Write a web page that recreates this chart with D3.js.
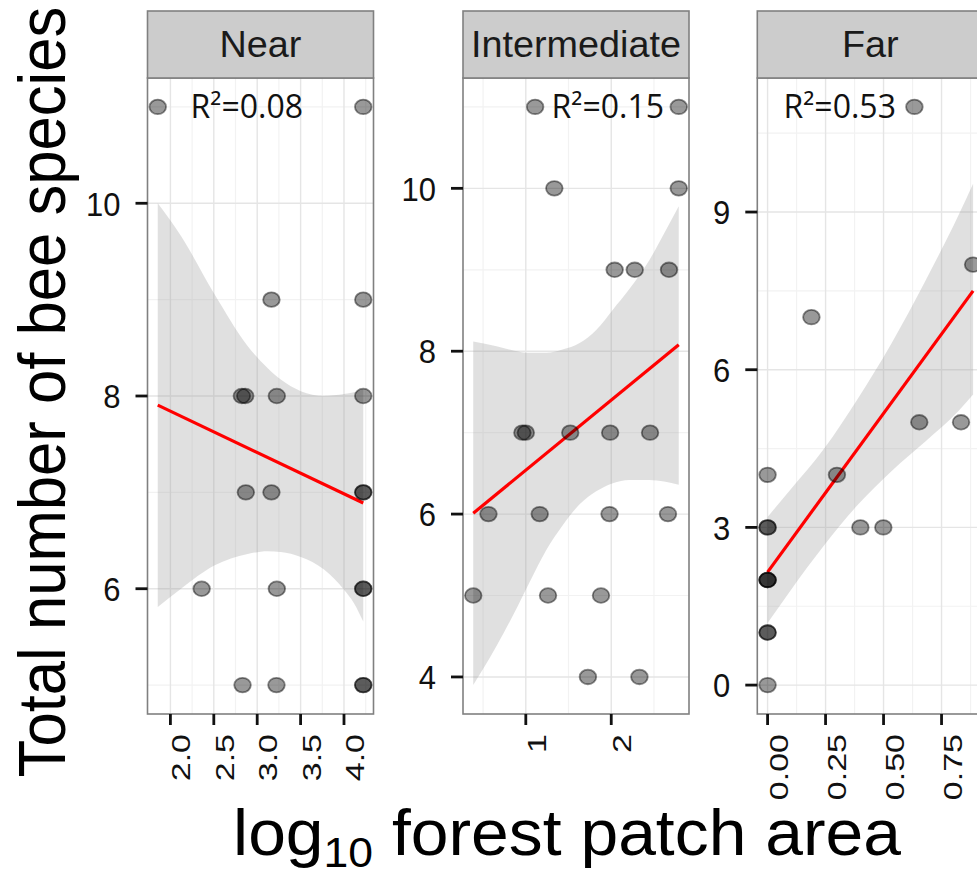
<!DOCTYPE html>
<html><head><meta charset="utf-8">
<script src="https://cdn.jsdelivr.net/npm/d3@7"></script>
<style>body{margin:0;background:#fff}svg{display:block}</style>
</head><body><svg id="c" width="977" height="879"></svg>
<script>
// ---------- data ----------
const panelNames = ["Near", "Intermediate", "Far"];
const r2Labels = ["R²=0.08", "R²=0.15", "R²=0.53"];
const r2X = [2.88, 1.96, 0.311];
const r2Y = [11, 11, 11];

const nearX = [1.854, 4.222, 3.164, 4.222, 2.823, 2.862, 3.226, 4.222, 2.869, 3.164, 4.222, 4.222, 2.36, 3.226, 4.222, 4.222, 2.831, 3.222, 4.222, 4.222];
const nearY = [11, 11, 9, 9, 8, 8, 8, 8, 7, 7, 7, 7, 6, 6, 6, 6, 5, 5, 5, 5];

const interX = [1.109, 2.79, 1.334, 2.79, 2.04, 2.275, 2.676, 0.96, 1.0, 1.52, 1.987, 2.454, 0.563, 1.163, 1.98, 2.664, 0.385, 1.26, 1.88, 1.727, 2.33];
const interY = [11, 11, 10, 10, 9, 9, 9, 7, 7, 7, 7, 7, 6, 6, 6, 6, 5, 5, 5, 4, 4];

const farX = [0.633, 0.886, 0.189, 0.654, 0.834, 0, 0.299, 0, 0, 0.40, 0.499, 0, 0, 0, 0, 0, 0];
const farY = [11, 8, 7, 5, 5, 4, 4, 3, 3, 3, 3, 2, 2, 2, 1, 1, 0];

// fitted lines (end points)
const nearLineX = [1.854, 4.222], nearLineY = [7.905, 6.89];
const interLineX = [0.385, 2.79], interLineY = [6.01, 8.08];
const farLineX = [0, 0.886], farLineY = [2.15, 7.50];

// confidence bands
const nearBandX = [1.854, 2.122, 2.505, 2.889, 3.119, 3.272, 3.502, 3.770, 4.000, 4.115, 4.222];
const nearBandHi = [10.0, 9.66, 9.06, 8.52, 8.29, 8.17, 8.05, 8.00, 8.02, 8.04, 8.07];
const nearBandLo = [5.81, 6.00, 6.24, 6.36, 6.39, 6.38, 6.33, 6.20, 5.99, 5.85, 5.66];

const interBandX = [0.385, 0.657, 0.852, 1.047, 1.24, 1.43, 1.63, 1.824, 2.019, 2.21, 2.447, 2.62, 2.79];
const interBandHi = [8.12, 8.06, 8.01, 7.98, 7.98, 8.02, 8.10, 8.26, 8.51, 8.76, 9.12, 9.45, 9.78];
const interBandLo = [3.90, 4.38, 4.76, 5.17, 5.56, 5.86, 6.12, 6.28, 6.38, 6.42, 6.42, 6.40, 6.36];

const farBandX = [0, 0.099, 0.244, 0.389, 0.534, 0.679, 0.824, 0.886];
const farBandHi = [3.20, 3.72, 4.50, 5.45, 6.50, 7.68, 8.95, 9.54];
const farBandLo = [1.18, 1.80, 2.66, 3.43, 4.07, 4.63, 5.22, 5.53];

// axes
const xDomains = [[1.736, 4.34], [0.265, 2.91], [-0.0443, 0.930]];
const yDomains = [[4.7, 11.3], [3.545, 11.355], [-0.55, 11.55]];
const xTicks = [[2.0, 2.5, 3.0, 3.5, 4.0], [1, 2], [0, 0.25, 0.5, 0.75]];
const xTickLabels = [["2.0", "2.5", "3.0", "3.5", "4.0"], ["1", "2"], ["0.00", "0.25", "0.50", "0.75"]];
const xMinor = [[2.25, 2.75, 3.25, 3.75, 4.25], [0.5, 1.5, 2.5], [0.125, 0.375, 0.625, 0.875]];
const yTicks = [[6, 8, 10], [4, 6, 8, 10], [0, 3, 6, 9]];
const yMinor = [[5, 7, 9, 11], [5, 7, 9, 11], [1.5, 4.5, 7.5, 10.5]];
const xTitleMain = "log";
const xTitleSub = "10";
const xTitleRest = " forest patch area";
const yTitle = "Total number of bee species";

// ---------- layout ----------
const panelX0 = [147.5, 463, 757.3];
const panelW = 226;
const panelTop = 78, panelBottom = 714, stripTop = 11;

const pts = [
  nearX.map((x, i) => ({x, y: nearY[i]})),
  interX.map((x, i) => ({x, y: interY[i]})),
  farX.map((x, i) => ({x, y: farY[i]}))
];
const lines = [
  nearLineX.map((x, i) => ({x, y: nearLineY[i]})),
  interLineX.map((x, i) => ({x, y: interLineY[i]})),
  farLineX.map((x, i) => ({x, y: farLineY[i]}))
];
const bands = [
  nearBandX.map((x, i) => ({x, lo: nearBandLo[i], hi: nearBandHi[i]})),
  interBandX.map((x, i) => ({x, lo: interBandLo[i], hi: interBandHi[i]})),
  farBandX.map((x, i) => ({x, lo: farBandLo[i], hi: farBandHi[i]}))
];

const svg = d3.select("#c");
const font = "'Liberation Sans', Arial, sans-serif";

panelNames.forEach((name, p) => {
  const x0 = panelX0[p];
  const xs = d3.scaleLinear().domain(xDomains[p]).range([x0, x0 + panelW]);
  const ys = d3.scaleLinear().domain(yDomains[p]).range([panelBottom, panelTop]);
  const g = svg.append("g");

  g.append("rect").attr("x", x0).attr("y", panelTop).attr("width", panelW)
    .attr("height", panelBottom - panelTop).attr("fill", "#fff");

  // minor grid
  g.selectAll(null).data(xMinor[p]).join("line")
    .attr("x1", d => xs(d)).attr("x2", d => xs(d)).attr("y1", panelTop).attr("y2", panelBottom)
    .attr("stroke", "#f2f2f2").attr("stroke-width", 1.2);
  g.selectAll(null).data(yMinor[p]).join("line")
    .attr("y1", d => ys(d)).attr("y2", d => ys(d)).attr("x1", x0).attr("x2", x0 + panelW)
    .attr("stroke", "#f2f2f2").attr("stroke-width", 1.2);
  // major grid
  g.selectAll(null).data(xTicks[p]).join("line")
    .attr("x1", d => xs(d)).attr("x2", d => xs(d)).attr("y1", panelTop).attr("y2", panelBottom)
    .attr("stroke", "#e5e5e5").attr("stroke-width", 1.4);
  g.selectAll(null).data(yTicks[p]).join("line")
    .attr("y1", d => ys(d)).attr("y2", d => ys(d)).attr("x1", x0).attr("x2", x0 + panelW)
    .attr("stroke", "#e5e5e5").attr("stroke-width", 1.4);

  // band
  const area = d3.area().x(d => xs(d.x)).y0(d => ys(d.lo)).y1(d => ys(d.hi)).curve(d3.curveMonotoneX);
  g.append("path").datum(bands[p]).attr("d", area).attr("fill", "#999999").attr("fill-opacity", 0.3);

  // fit line
  const ln = d3.line().x(d => xs(d.x)).y(d => ys(d.y));
  g.append("path").datum(lines[p]).attr("d", ln).attr("fill", "none")
    .attr("stroke", "#ff0000").attr("stroke-width", 3.2);

  // points
  g.selectAll(null).data(pts[p]).join("ellipse")
    .attr("cx", d => xs(d.x)).attr("cy", d => ys(d.y)).attr("rx", 8.3).attr("ry", 7.3)
    .attr("fill", "#000").attr("fill-opacity", 0.4)
    .attr("stroke", "#000").attr("stroke-opacity", 0.45).attr("stroke-width", 1.8);

  // R2 label
  g.append("text").attr("x", xs(r2X[p])).attr("y", ys(r2Y[p]) + 11)
    .attr("text-anchor", "middle").attr("font-family", "'Open Sans', sans-serif")
    .attr("font-size", 32).attr("fill", "#111").text(r2Labels[p]);

  // border
  g.append("rect").attr("x", x0).attr("y", panelTop).attr("width", panelW)
    .attr("height", panelBottom - panelTop).attr("fill", "none")
    .attr("stroke", "#808080").attr("stroke-width", 1.6);

  // strip
  g.append("rect").attr("x", x0).attr("y", stripTop).attr("width", panelW)
    .attr("height", panelTop - stripTop).attr("fill", "#cccccc")
    .attr("stroke", "#808080").attr("stroke-width", 1.6);
  g.append("text").attr("transform", `translate(${x0 + panelW / 2},57) scale(1.08,1.05)`)
    .attr("text-anchor", "middle").attr("font-family", font).attr("font-size", 35)
    .attr("fill", "#1a1a1a").text(name);

  // x ticks
  g.selectAll(null).data(xTicks[p]).join("line")
    .attr("x1", d => xs(d)).attr("x2", d => xs(d)).attr("y1", panelBottom).attr("y2", panelBottom + 11)
    .attr("stroke", "#111").attr("stroke-width", 2.8);
  g.selectAll(null).data(xTicks[p]).join("text")
    .attr("transform", d => `translate(${xs(d) + 20},734) rotate(-90) scale(1.36,1)`)
    .attr("text-anchor", "end").attr("font-family", font).attr("font-size", 25)
    .attr("fill", "#111").text((d, i) => xTickLabels[p][i]);

  // y ticks
  g.selectAll(null).data(yTicks[p]).join("line")
    .attr("y1", d => ys(d)).attr("y2", d => ys(d)).attr("x1", x0 - 12).attr("x2", x0)
    .attr("stroke", "#111").attr("stroke-width", 2.8);
  g.selectAll(null).data(yTicks[p]).join("text")
    .attr("transform", d => `translate(${x0 - 27},${ys(d)}) scale(1,1.1)`)
    .attr("dy", "0.36em").attr("text-anchor", "end").attr("font-family", font)
    .attr("font-size", 31).attr("fill", "#111").text(d => d);
});

// axis titles
const xt = svg.append("text").attr("transform", "translate(567,855) scale(1.06,1)")
  .attr("text-anchor", "middle").attr("font-family", font).attr("font-size", 64).attr("fill", "#000");
xt.append("tspan").text(xTitleMain);
xt.append("tspan").attr("font-size", 42).attr("dy", 12).text(xTitleSub);
xt.append("tspan").attr("dy", -12).text(xTitleRest);

svg.append("text").attr("transform", "translate(65,392) rotate(-90) scale(0.92,1)")
  .attr("text-anchor", "middle").attr("font-family", font).attr("font-size", 67)
  .attr("fill", "#000").text(yTitle);
</script>
</body></html>
